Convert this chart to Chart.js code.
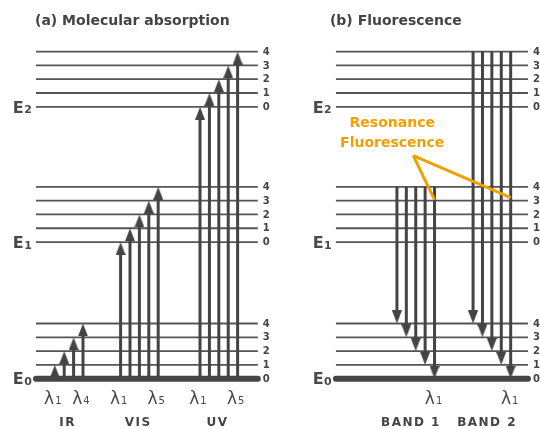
<!DOCTYPE html>
<html>
<head>
<meta charset="utf-8">
<script src="https://cdn.jsdelivr.net/npm/chart.js@4.4.1/dist/chart.umd.min.js"></script>
<style>
  html, body { margin: 0; padding: 0; background: #fff; }
  #wrap { width: 540px; height: 429px; position: relative; }
</style>
</head>
<body>
<div id="wrap"><canvas id="diagram"></canvas></div>
<script>
(function () {
    'use strict';

    /* ── Data: energy levels (in units of one vibrational spacing) ── */
    var stateNames      = ['0', '1', '2'];          // E0, E1, E2 subscripts
    var stateEnergy     = [0, 9.9, 19.7];
    var vibLevels       = [0, 1, 2, 3, 4];

    /* ── Data: (a) absorption, from E0 v=0 up to ── */
    var absGroups       = ['IR', 'VIS', 'UV'];
    var absUpperState   = [0, 1, 2];
    var absUpperVib     = [[1, 2, 3, 4], [0, 1, 2, 3, 4], [0, 1, 2, 3, 4]];
    var absLambdaFirst  = ['1', '1', '1'];
    var absLambdaLast   = ['4', '5', '5'];

    /* ── Data: (b) fluorescence, from Ex v=4 down to E0 v ── */
    var fluoBands       = ['BAND 1', 'BAND 2'];
    var fluoUpperState  = [1, 2];
    var fluoUpperVib    = 4;
    var fluoLowerVib    = [4, 3, 2, 1, 0];
    var fluoLambda      = ['1', '1'];

    var titles          = ['(a) Molecular absorption', '(b) Fluorescence'];
    var noteLines       = ['Resonance', 'Fluorescence'];

    /* ── Layout (slot units on x, vibrational units on y) ── */
    var LAY = {
        xMin: -3.83, xMax: 53.62, yMin: -3.645, yMax: 27.44,
        panel: [[0, 23.6], [31.91, 52.34]],
        absStart: [2, 9, 17.45],
        fluoStart: [38.4, 46.5],
        head: 0.92,
        noteVertex: { x: 40.14, y: 16.16 },
        noteTipY: 12.95,
        noteText: { x: 37.9, y: [18.5, 17.05] }
    };

    var GREY = '#555', DARK = '#444', ORANGE = '#F0A000';

    function makeHead(w, h, color) {
        var c = document.createElement('canvas');
        c.width = w; c.height = h * 2;
        var g = c.getContext('2d');
        g.fillStyle = color;
        g.beginPath();
        g.moveTo(w / 2, h); g.lineTo(w, 2 * h); g.lineTo(0, 2 * h);
        g.closePath(); g.fill();
        return c;
    }
    var headImg = makeHead(10, 13, DARK);

    function lineDs(pts, color, width, cap, order) {
        return { data: pts, showLine: true, borderColor: color, borderWidth: width,
                 borderCapStyle: cap || 'butt', pointRadius: 0, fill: false,
                 tension: 0, order: order };
    }
    function arrow(x, from, to) {
        var dir = to > from ? 1 : -1;
        return [
            lineDs([{ x: x, y: from }, { x: x, y: to - dir * LAY.head * 0.7 }], DARK, 3, 'butt', 1),
            { data: [{ x: x, y: to }], showLine: false, pointStyle: headImg,
              pointRadius: 5, pointRotation: dir > 0 ? 0 : 180, order: 1 }
        ];
    }

    var datasets = [];

    /* levels, both panels */
    LAY.panel.forEach(function (p) {
        stateEnergy.forEach(function (e, s) {
            vibLevels.forEach(function (v) {
                var ground = (s === 0 && v === 0);
                datasets.push(lineDs([{ x: p[0], y: e + v }, { x: p[1], y: e + v }],
                    ground ? DARK : GREY, ground ? 6 : 1.8, ground ? 'round' : 'butt', ground ? 2 : 3));
            });
        });
    });

    /* absorption arrows */
    var absX = [];
    absGroups.forEach(function (g, i) {
        absX.push([]);
        absUpperVib[i].forEach(function (v, k) {
            var x = LAY.absStart[i] + k;
            absX[i].push(x);
            datasets = datasets.concat(arrow(x, stateEnergy[0], stateEnergy[absUpperState[i]] + v));
        });
    });

    /* fluorescence arrows */
    var fluoX = [];
    fluoBands.forEach(function (b, i) {
        fluoX.push([]);
        fluoLowerVib.forEach(function (v, k) {
            var x = LAY.fluoStart[i] + k;
            fluoX[i].push(x);
            datasets = datasets.concat(arrow(x, stateEnergy[fluoUpperState[i]] + fluoUpperVib, stateEnergy[0] + v));
        });
    });

    /* resonance pointer */
    fluoBands.forEach(function (b, i) {
        var last = fluoX[i][fluoX[i].length - 1];
        datasets.push(lineDs([{ x: LAY.noteVertex.x, y: LAY.noteVertex.y },
            { x: last, y: LAY.noteTipY + i * 0.17 }], ORANGE, 3, 'butt', 0));
    });

    /* ── Text drawn with the scales ── */
    var textPlugin = {
        id: 'diagramText',
        afterDraw: function (chart) {
            var c = chart.ctx, sx = chart.scales.x, sy = chart.scales.y;
            function X(v) { return sx.getPixelForValue(v); }
            function Y(v) { return sy.getPixelForValue(v); }
            c.save();
            var F = 'DejaVu Sans, Verdana, sans-serif';

            /* titles */
            c.fillStyle = DARK; c.textBaseline = 'middle'; c.textAlign = 'left';
            c.font = 'bold 14px ' + F;
            c.fillText(titles[0], X(LAY.panel[0][0]) - 1, 21.5);
            c.fillText(titles[1], X(LAY.panel[1][0]) - 6, 21.5);

            /* E labels and vibrational numbers */
            LAY.panel.forEach(function (p) {
                stateEnergy.forEach(function (e, s) {
                    var x0 = X(p[0]) - 23.3, y0 = Y(e);
                    c.fillStyle = '#4a4a4a'; c.textBaseline = 'alphabetic';
                    c.font = 'bold 16px ' + F;
                    c.fillText('E', x0, y0 + 5.8);
                    var w = c.measureText('E').width;
                    c.font = 'bold 11px ' + F;
                    c.fillText(stateNames[s], x0 + w + 0.5, y0 + 6.5);
                    c.font = 'bold 10px ' + F; c.fillStyle = DARK; c.textBaseline = 'middle';
                    vibLevels.forEach(function (v) {
                        c.fillText(String(v), X(p[1]) + 5, Y(e + v) + 0.5);
                    });
                });
            });

            function lambda(cx, digit) {
                c.fillStyle = '#4a4a4a'; c.textBaseline = 'alphabetic';
                c.font = '17px ' + F;
                var w1 = c.measureText('λ').width;
                c.font = '10px ' + F;
                var w2 = c.measureText(digit).width;
                var left = cx - (w1 + w2 + 1) / 2, base = Y(stateEnergy[0]) + 25.5;
                c.font = '17px ' + F; c.fillText('λ', left, base);
                c.font = '10px ' + F; c.fillText(digit, left + w1 + 1, base);
            }
            function groupName(cx, txt) {
                c.fillStyle = DARK; c.textBaseline = 'middle'; c.textAlign = 'center';
                c.font = 'bold 12px ' + F;
                c.letterSpacing = '1.5px';
                c.fillText(txt, cx + 0.75, Y(stateEnergy[0]) + 44.5);
                c.letterSpacing = '0px';
                c.textAlign = 'left';
            }

            absGroups.forEach(function (g, i) {
                var xs = absX[i];
                lambda(X(xs[0]) - 2, absLambdaFirst[i]);
                lambda(X(xs[xs.length - 1]) - 2, absLambdaLast[i]);
                groupName((X(xs[0]) + X(xs[xs.length - 1])) / 2 - 2, g);
            });
            fluoBands.forEach(function (b, i) {
                var xs = fluoX[i];
                lambda(X(xs[xs.length - 1]) - 1, fluoLambda[i]);
                groupName((X(xs[0]) + X(xs[xs.length - 1])) / 2 - 5.5, b);
            });

            /* resonance note */
            c.fillStyle = ORANGE; c.textAlign = 'center'; c.textBaseline = 'middle';
            c.font = 'bold 14px ' + F;
            noteLines.forEach(function (t, i) {
                c.fillText(t, X(LAY.noteText.x), Y(LAY.noteText.y[i]));
            });
            c.restore();
        }
    };

    new Chart(document.getElementById('diagram').getContext('2d'), {
        type: 'scatter',
        data: { datasets: datasets },
        options: {
            responsive: true, maintainAspectRatio: false, animation: false,
            events: [],
            layout: { padding: 0, autoPadding: false },
            plugins: { legend: { display: false }, tooltip: { enabled: false }, title: { display: false } },
            scales: {
                x: { type: 'linear', display: false, min: LAY.xMin, max: LAY.xMax },
                y: { type: 'linear', display: false, min: LAY.yMin, max: LAY.yMax }
            }
        },
        plugins: [textPlugin]
    });
})();
</script>
</body>
</html>
